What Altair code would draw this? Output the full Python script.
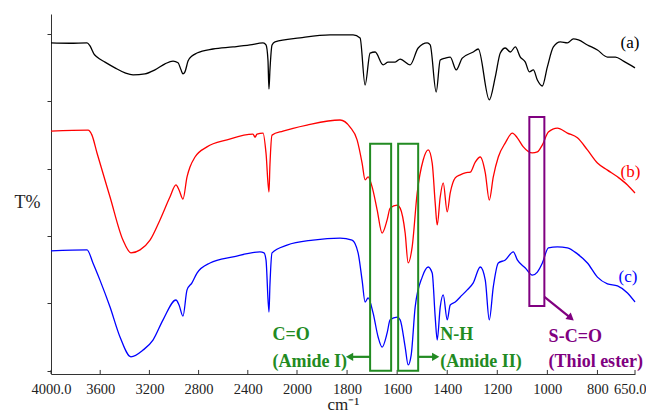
import altair as alt
import pandas as pd

# ---- Spectrum (a) ----
wn_a = [4000, 3846, 3707, 3683, 3650, 3626, 3561, 3480, 3398, 3333, 3236, 3155, 3073, 3008, 2967, 2943, 2927, 2911, 2886, 2854,
        2813, 2683, 2520, 2382, 2276, 2252, 2236, 2228, 2220, 2203, 2179, 1988, 1868, 1776, 1748, 1728, 1708, 1688, 1656, 1636,
        1608, 1588, 1548, 1516, 1480, 1468, 1444, 1428, 1408, 1388, 1364, 1340, 1296, 1276, 1232, 1208, 1188, 1168, 1148, 1128,
        1108, 1088, 1072, 1056, 1040, 1020, 1000, 976, 948, 920, 896, 876, 840, 800, 760, 728, 696, 650]
t_a = [97.4, 97.3, 97.4, 96.5, 94.1, 93.2, 91.7, 90.0, 88.5, 87.9, 88.2, 89.4, 91.2, 92.0, 91.5, 89.4, 88.2, 88.8, 92.0, 93.5,
       94.4, 95.6, 96.2, 96.8, 97.4, 96.8, 92.3, 83.7, 89.4, 96.8, 97.7, 98.9, 99.8, 99.8, 98.9, 84.9, 94.4, 94.7, 90.9, 91.7,
       91.7, 92.6, 90.9, 95.9, 97.4, 96.8, 82.8, 92.3, 92.9, 93.2, 89.4, 92.9, 94.7, 95.6, 80.5, 87.3, 94.4, 95.9, 94.7, 96.2,
       93.2, 91.7, 88.8, 89.4, 86.4, 84.6, 90.3, 96.2, 97.7, 97.4, 98.6, 98.3, 96.8, 95.3, 93.2, 93.2, 92.0, 90.0]

# ---- Spectrum (b) ----
wn_b = [4000, 3699, 3667, 3626, 3520, 3415, 3350, 3276, 3195, 3114, 3033, 2984, 2959, 2927, 2894, 2870, 2829, 2732, 2569, 2358,
        2341, 2325, 2276, 2252, 2228, 2220, 2203, 2114, 1960, 1828, 1788, 1760, 1740, 1728, 1716, 1700, 1680, 1660, 1640, 1628,
        1600, 1588, 1568, 1556, 1540, 1520, 1496, 1476, 1460, 1448, 1440, 1428, 1416, 1400, 1388, 1368, 1348, 1328, 1308, 1288,
        1268, 1248, 1232, 1216, 1196, 1168, 1140, 1120, 1096, 1060, 1040, 1020, 996, 960, 920, 880, 840, 800, 760, 720,
        680, 650]
t_b = [71.2, 71.5, 70.0, 64.7, 51.6, 38.8, 35.0, 35.9, 38.8, 44.8, 51.6, 55.2, 53.7, 51.0, 57.6, 60.5, 63.5, 66.5, 68.6, 70.3,
       69.4, 70.3, 70.6, 64.7, 53.1, 61.1, 70.0, 71.2, 73.0, 74.5, 72.4, 68.6, 61.7, 56.7, 57.6, 54.6, 47.8, 40.9, 44.8, 48.3,
       49.2, 48.3, 40.9, 32.0, 36.8, 52.8, 62.6, 65.6, 61.7, 49.8, 43.3, 51.6, 55.8, 47.2, 52.8, 57.3, 58.2, 58.8, 59.0, 62.0,
       63.5, 58.8, 50.7, 57.6, 63.5, 67.7, 70.6, 69.2, 66.5, 64.7, 65.0, 67.1, 70.9, 72.1, 70.6, 69.2, 65.6, 61.7, 59.6, 57.6,
       55.2, 52.8]

# ---- Spectrum (c) ----
wn_c = [4000, 3707, 3659, 3602, 3520, 3439, 3350, 3252, 3171, 3089, 2984, 2959, 2927, 2894, 2854, 2813, 2707, 2520, 2301, 2268,
        2252, 2228, 2220, 2203, 2081, 1936, 1828, 1780, 1756, 1740, 1728, 1716, 1696, 1676, 1660, 1640, 1628, 1600, 1588, 1568,
        1556, 1544, 1528, 1500, 1476, 1460, 1448, 1440, 1428, 1416, 1400, 1388, 1368, 1348, 1320, 1296, 1268, 1248, 1232, 1216,
        1196, 1168, 1136, 1120, 1088, 1060, 1040, 1020, 996, 960, 920, 880, 840, 800, 760, 720, 680, 650]
t_c = [35.6, 35.9, 32.0, 26.9, 18.9, 10.0, 4.1, 6.1, 9.1, 15.1, 21.0, 19.5, 16.2, 24.0, 26.1, 29.0, 32.0, 33.8, 35.3, 35.0,
       32.9, 17.4, 25.5, 35.0, 37.3, 38.8, 39.4, 38.8, 35.0, 26.9, 20.4, 21.6, 17.1, 10.0, 7.0, 11.2, 15.1, 15.9, 15.1, 7.0,
       1.7, 4.6, 18.9, 27.8, 30.8, 29.0, 15.9, 9.1, 18.9, 22.5, 15.1, 19.5, 20.4, 21.9, 24.0, 26.1, 30.8, 26.9, 15.1, 24.9,
       32.0, 32.9, 35.3, 32.9, 30.5, 28.4, 29.3, 32.0, 36.5, 36.8, 36.5, 34.7, 32.0, 27.8, 25.8, 25.2, 23.1, 20.4]

series_names = ["(a)", "(b)", "(c)"]
series_colors = ["#000000", "#ff0000", "#0000ff"]
series_label_wn = [708, 708, 716]
series_label_t = [97.4, 59.0, 27.8]

# ---- annotations ----
box_wn1 = [1708, 1596, 1072]
box_wn2 = [1624, 1516, 1012]
box_t1 = [67.4, 67.4, 75.4]
box_t2 = [0.0, 0.0, 19.2]
box_color = ["#228B22", "#228B22", "#800080"]

note_text = ["C=O", "(Amide I)", "N-H", "(Amide II)", "S-C=O", "(Thiol ester)"]
note_wn = [2200, 2200, 1428, 1428, 995, 995]
note_t = [10.6, 2.6, 10.6, 2.6, 10.0, 2.6]
note_color = ["#228B22", "#228B22", "#228B22", "#228B22", "#800080", "#800080"]

arrow_wn1 = [1708, 1516, 1012]
arrow_wn2 = [1790, 1446, 906]
arrow_t1 = [4.1, 4.1, 21.9]
arrow_t2 = [4.1, 4.1, 15.6]
arrow_color = ["#228B22", "#228B22", "#800080"]
head_shape = ["triangle-left", "triangle-right", "triangle-up"]
head_angle = [0, 0, 129]

tick_values = [4000, 3600, 3200, 2800, 2400, 2000, 1800, 1600, 1400, 1200, 1000, 800, 650]
tick_lo, tick_hi = -1.0, 0.2   # short inward ticks on the x axis

# ---- tables ----
spec = pd.concat([
    pd.DataFrame({"wn": wn_a, "t": t_a, "s": "(a)"}),
    pd.DataFrame({"wn": wn_b, "t": t_b, "s": "(b)"}),
    pd.DataFrame({"wn": wn_c, "t": t_c, "s": "(c)"}),
], ignore_index=True)
labels = pd.DataFrame({"s": series_names, "wn": series_label_wn, "t": series_label_t})
boxes = pd.DataFrame({"wn1": box_wn1, "wn2": box_wn2, "t1": box_t1, "t2": box_t2, "c": box_color})
notes = pd.DataFrame({"txt": note_text, "wn": note_wn, "t": note_t, "c": note_color})
arrows = pd.DataFrame({"wn1": arrow_wn1, "wn2": arrow_wn2, "t1": arrow_t1, "t2": arrow_t2,
                       "c": arrow_color, "shape": head_shape, "ang": head_angle})
xticks = pd.DataFrame({"wn": tick_values, "lo": tick_lo, "hi": tick_hi})

FONT = "Liberation Serif"
xscale = alt.Scale(domain=[4000, 2000, 650], range=[0, 246, 584], nice=False, zero=False)
yscale = alt.Scale(domain=[-1, 106], nice=False, zero=False)
cscale = alt.Scale(domain=series_names, range=series_colors)

xaxis = alt.Axis(values=tick_values, title="cm\u207b\u00b9", grid=False,
                 labelExpr="datum.value == 4000 || datum.value == 650 ? format(datum.value, '.1f') : format(datum.value, 'd')",
                 labelFlush=False, labelOverlap=False, labelFont=FONT, labelFontSize=14.5, labelColor="#222",
                 labelAlign={"condition": {"test": "datum.value == 650", "value": "right"}, "value": "center"},
                 labelOffset={"condition": {"test": "datum.value == 650", "value": 11}, "value": 0},
                 labelPadding=4, tickSize=4, tickColor="transparent", domainColor="#333",
                 titleFont=FONT, titleFontSize=17, titleFontWeight="normal", titleColor="#222", titlePadding=1)
yaxis = alt.Axis(values=list(range(0, 101, 10)), labels=False, grid=False, tickSize=4, tickColor="#333",
                 domainColor="#333", title="T%", titleAngle=0, titleAlign="right", titleBaseline="middle",
                 titleX=-11, titleY=188, titleFont=FONT, titleFontSize=18, titleFontWeight="normal", titleColor="#222")

X = lambda f: alt.X(f, type="quantitative", scale=xscale, axis=xaxis)
Y = lambda f: alt.Y(f, type="quantitative", scale=yscale, axis=yaxis)

lines = alt.Chart(spec).mark_line(strokeWidth=1.3, interpolate="monotone").encode(
    x=X("wn"), y=Y("t"), detail="s:N",
    color=alt.Color("s:N", scale=cscale, legend=None), order="wn:Q")

tick_marks = alt.Chart(xticks).mark_rule(color="#333", strokeWidth=1).encode(
    x=alt.X("wn:Q", scale=xscale), y=alt.Y("lo:Q", scale=yscale), y2="hi:Q")

series_txt = alt.Chart(labels).mark_text(font=FONT, fontSize=17, align="left", baseline="middle").encode(
    x=alt.X("wn:Q", scale=xscale), y=alt.Y("t:Q", scale=yscale), text="s:N",
    color=alt.Color("s:N", scale=cscale, legend=None))

rects = alt.Chart(boxes).mark_rect(fill=None, filled=False, strokeWidth=2).encode(
    x=alt.X("wn1:Q", scale=xscale), x2="wn2:Q", y=alt.Y("t1:Q", scale=yscale), y2="t2:Q",
    stroke=alt.Color("c:N", scale=None))

note_marks = alt.Chart(notes).mark_text(font=FONT, fontSize=18, fontWeight="bold", align="left", baseline="middle").encode(
    x=alt.X("wn:Q", scale=xscale), y=alt.Y("t:Q", scale=yscale), text="txt:N",
    color=alt.Color("c:N", scale=None))

arrow_lines = alt.Chart(arrows).mark_rule(strokeWidth=2.2).encode(
    x=alt.X("wn1:Q", scale=xscale), x2="wn2:Q", y=alt.Y("t1:Q", scale=yscale), y2="t2:Q",
    color=alt.Color("c:N", scale=None))

heads = alt.Chart(arrows).mark_point(filled=True, size=70, opacity=1).encode(
    x=alt.X("wn2:Q", scale=xscale), y=alt.Y("t2:Q", scale=yscale),
    shape=alt.Shape("shape:N", scale=None), angle=alt.Angle("ang:Q", scale=None),
    color=alt.Color("c:N", scale=None))

chart = alt.layer(lines, tick_marks, series_txt, rects, arrow_lines, heads, note_marks).properties(
    width=584, height=360,
    autosize=alt.AutoSizeParams(type="none"),
    padding={"left": 43, "top": 6, "right": 11, "bottom": 42},
    background="white",
).configure_view(stroke=None)

chart.save("out.html", embed_options={"renderer": "svg", "actions": False})
